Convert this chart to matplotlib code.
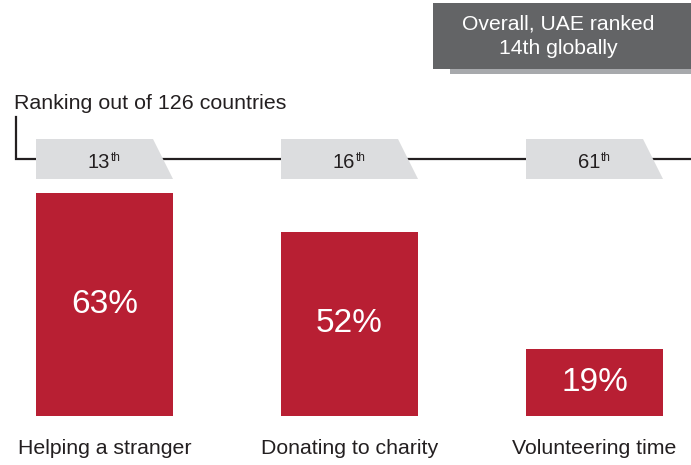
import matplotlib
matplotlib.use("Agg")
import matplotlib.pyplot as plt
import matplotlib.transforms as mtransforms
from matplotlib.patches import Polygon, Rectangle

plt.rcParams['font.family'] = ['Liberation Sans', 'DejaVu Sans']

categories = ["Helping a stranger", "Donating to charity", "Volunteering time"]
values = [63, 52, 19]
ranks = ["13", "16", "61"]
rank_suffix = ["th", "th", "th"]
subtitle = "Ranking out of 126 countries"
callout = "Overall, UAE ranked\n14th globally"

RED = "#b81f33"
GREY_TAG = "#dcdddf"
DARK_BOX = "#636466"
SHADOW = "#a7a9ac"
TEXT = "#231f20"

W, H = 691, 465
fig = plt.figure(figsize=(W / 100, H / 100), dpi=100)
ax0 = fig.add_axes([0, 0, 1, 1])
ax0.set_xlim(0, W)
ax0.set_ylim(H, 0)
ax0.axis("off")

# bar axes: baseline at y=416 px, 3.54 px per %
base_px = 416
scale = 3.54
ax1 = fig.add_axes([0, (H - base_px) / H, 1, 100 * scale / H])
ax1.patch.set_alpha(0)
step = 245.0
x0 = 104.5
ax1.set_xlim(-x0 / step, (W - x0) / step)
ax1.set_ylim(0, 100)
ax1.axis("off")

bw = 137 / step
xs = list(range(len(categories)))
bars = ax1.bar(xs, values, width=bw, color=RED, linewidth=0)
for x, v in zip(xs, values):
    ax1.text(x, v / 2, f"{v}%", ha="center", va="center", color="white",
             fontsize=24)

# category labels
trans = mtransforms.blended_transform_factory(ax1.transData, ax0.transData)
for x, c in zip(xs, categories):
    ax0.text(x, 448, c, transform=trans, ha="center", va="center",
             color=TEXT, fontsize=15.3)

# bracket line
ax0.plot([16, 16, W], [117, 159, 159], color=TEXT, lw=1.6,
         solid_joinstyle="miter", zorder=2)

# rank tags
slant = 20 / step
for x, r, s in zip(xs, ranks, rank_suffix):
    l = x - bw / 2
    rgt = x + bw / 2
    poly = Polygon([(l, 139), (rgt - slant, 139), (rgt, 179), (l, 179)],
                   closed=True, transform=trans, facecolor=GREY_TAG,
                   edgecolor="none", zorder=3)
    ax0.add_patch(poly)
    ax0.text(x + 0.023, 162, r, transform=trans, ha="right", va="center",
             color=TEXT, fontsize=14.5, zorder=4)
    ax0.text(x + 0.025, 157.5, s, transform=trans, ha="left", va="center",
             color=TEXT, fontsize=8.5, zorder=4)

# subtitle
ax0.text(14, 103, subtitle, ha="left", va="center", color=TEXT, fontsize=15.4)

# callout box with shadow
ax0.add_patch(Rectangle((450, 69), W - 450, 5, facecolor=SHADOW,
                        edgecolor="none", zorder=1))
ax0.add_patch(Rectangle((433, 3), W - 433, 66, facecolor=DARK_BOX,
                        edgecolor="none", zorder=2))
ax0.text(558, 36, callout, ha="center", va="center", color="white",
         fontsize=15.2, linespacing=1.35, zorder=3)

fig.savefig("out.png", dpi=100)
